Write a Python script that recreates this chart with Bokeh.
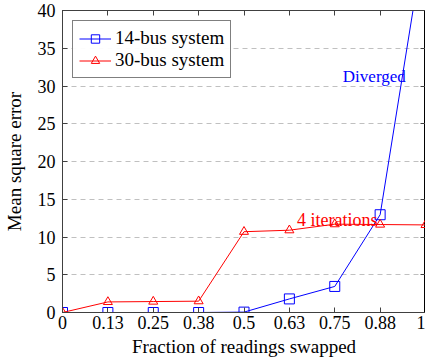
from bokeh.plotting import figure
from bokeh.models import FixedTicker, LinearAxis, Label, Range1d, Legend, LegendItem
from bokeh.embed import file_html
from bokeh.resources import INLINE

fraction = [0, 0.125, 0.25, 0.375, 0.5, 0.625, 0.75, 0.875, 1.0]
bus14 = [0.0, 0.0, 0.0, 0.0, 0.05, 1.8, 3.45, 12.95, 50.3]
bus30 = [0.0, 1.4, 1.45, 1.5, 10.7, 10.9, 11.7, 11.65, 11.6]
x_tick_labels = ["0", "0.13", "0.25", "0.38", "0.5", "0.63", "0.75", "0.88", "1"]
y_ticks = [0, 5, 10, 15, 20, 25, 30, 35, 40]

FONT = "Liberation Serif"
FS = "18px"
FS_LABEL = "19px"
BLUE = "#0000ff"
RED = "#ff0000"
AXC = "#404040"

p = figure(width=425, height=364, output_backend="svg", toolbar_location=None,
           x_range=Range1d(0, 1), y_range=Range1d(0, 40),
           min_border_left=62, min_border_right=0, min_border_top=10, min_border_bottom=52)
p.outline_line_color = "black"
p.outline_line_width = 1
p.background_fill_color = "white"

p.xgrid.visible = False
p.ygrid.ticker = FixedTicker(ticks=y_ticks[1:-1])
p.ygrid.grid_line_color = "#c0c0c0"
p.ygrid.grid_line_dash = "5 4"
p.ygrid.grid_line_width = 1

overrides = {f: l for f, l in zip(fraction, x_tick_labels)}

for ax in p.xaxis:
    ax.ticker = FixedTicker(ticks=fraction)
    ax.major_label_overrides = overrides
    ax.major_label_standoff = 3
    ax.axis_label_standoff = 4
for ax in p.yaxis:
    ax.ticker = FixedTicker(ticks=y_ticks)
    ax.major_label_standoff = 7
    ax.axis_label_standoff = 10

for ax in list(p.xaxis) + list(p.yaxis):
    ax.major_tick_in = 5
    ax.major_tick_out = 0
    ax.minor_tick_line_color = None
    ax.major_label_text_font = FONT
    ax.major_label_text_font_size = FS
    ax.major_label_text_color = "black"
    ax.axis_label_text_font = FONT
    ax.axis_label_text_font_size = FS_LABEL
    ax.axis_label_text_font_style = "normal"
    ax.axis_label_text_color = "black"
    ax.axis_line_color = AXC
    ax.major_tick_line_color = AXC

p.xaxis.axis_label = "Fraction of readings swapped"
p.yaxis.axis_label = "Mean square error"

blank_x = {f: "" for f in fraction}
blank_y = {t: "" for t in y_ticks}
top = LinearAxis(ticker=FixedTicker(ticks=fraction), major_label_overrides=blank_x,
                 major_label_text_font_size="1px",
                 major_label_standoff=0, major_tick_in=5, major_tick_out=0,
                 minor_tick_line_color=None, axis_line_color=AXC,
                 major_tick_line_color=AXC)
right = LinearAxis(ticker=FixedTicker(ticks=y_ticks), major_label_overrides=blank_y,
                   major_label_text_font_size="1px",
                   major_label_standoff=0, major_tick_in=5, major_tick_out=0,
                   minor_tick_line_color=None, axis_line_color=AXC,
                   major_tick_line_color=AXC)
p.add_layout(top, "above")
p.add_layout(right, "right")

l14 = p.line(fraction, bus14, line_color=BLUE, line_width=1)
m14 = p.scatter(fraction, bus14, marker="square", size=10, fill_color=None,
                line_color=BLUE, line_width=1)
l30 = p.line(fraction, bus30, line_color=RED, line_width=1)
m30 = p.scatter(fraction, bus30, marker="triangle", size=9, fill_color=None,
                line_color=RED, line_width=1)

legend = Legend(items=[LegendItem(label="14-bus system", renderers=[l14, m14]),
                       LegendItem(label="30-bus system", renderers=[l30, m30])],
                location="top_left")
legend.label_text_font = FONT
legend.label_text_font_size = FS_LABEL
legend.label_text_color = "black"
legend.border_line_color = "black"
legend.border_line_width = 1
legend.glyph_width = 32
legend.glyph_height = 21
legend.spacing = 0
legend.padding = 6
legend.margin = 10
legend.label_standoff = 4
legend.label_height = 21
p.add_layout(legend)

p.add_layout(Label(x=0.757, y=12.3, text="4 iterations", text_align="center",
                   text_baseline="alphabetic", text_font=FONT, text_font_size="18px",
                   text_color=RED))
p.add_layout(Label(x=0.859, y=31.3, text="Diverged", text_align="center",
                   text_baseline="alphabetic", text_font=FONT, text_font_size="17px",
                   text_color=BLUE))

open("out.html", "w").write(file_html(p, INLINE))
